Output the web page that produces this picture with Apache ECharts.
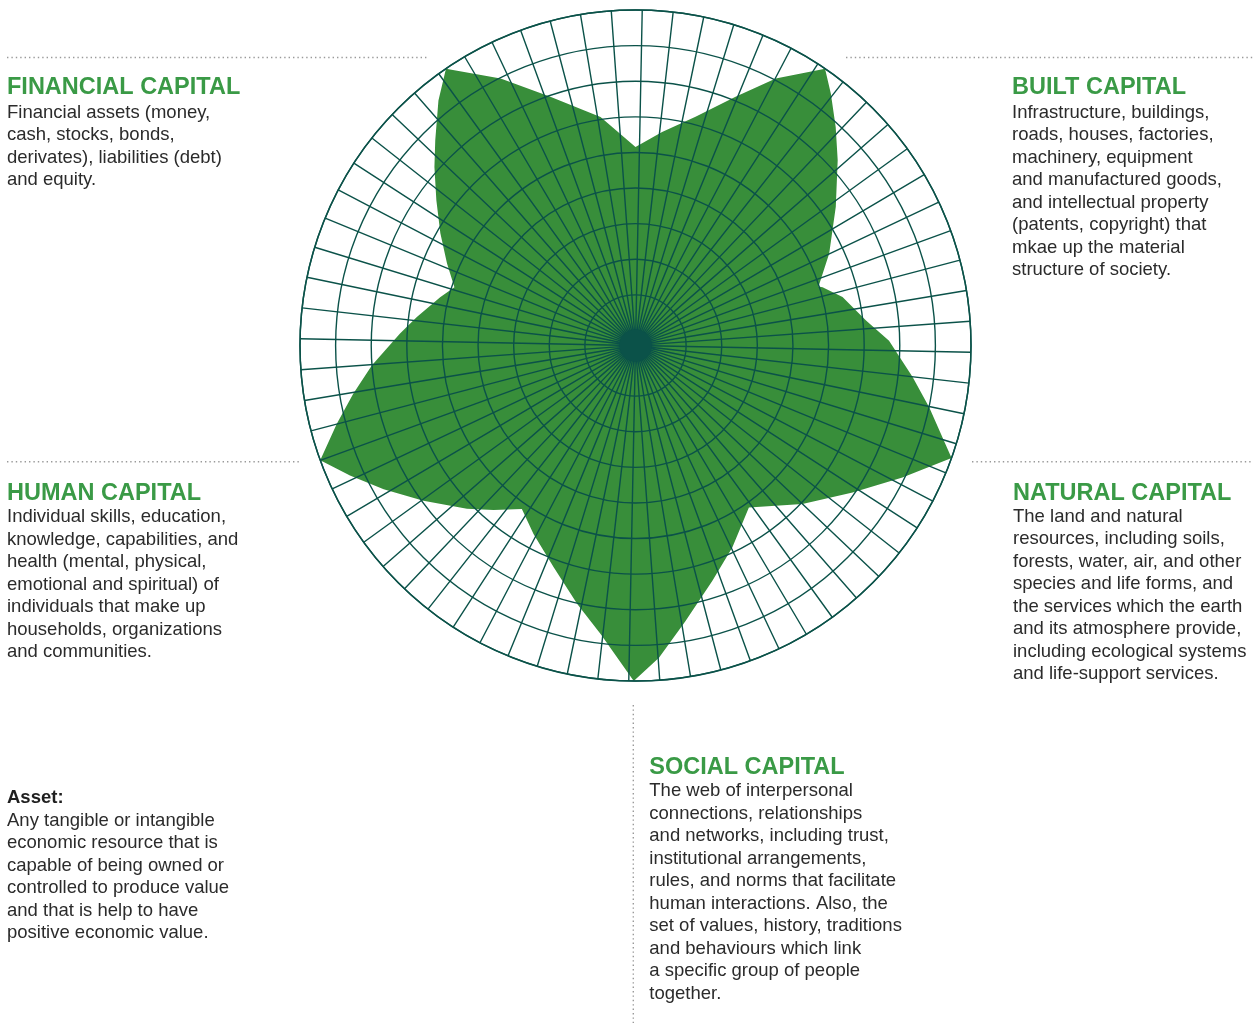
<!DOCTYPE html>
<html>
<head>
<meta charset="utf-8">
<title>Capitals</title>
<script src="https://cdn.jsdelivr.net/npm/echarts@6.0.0/dist/echarts.min.js"></script>
<style>
  html, body { margin: 0; padding: 0; background: #fff; }
  #main { width: 1255px; height: 1023px; }
</style>
</head>
<body>
<div id="main"></div>
<script>
// petal outline: angle in degrees (0 = right, counter-clockwise), radius in ring units (0..9)
var petalAngles = [1.1, 6.2, 13.2, 17.3, 17.9, 25.4, 34.7, 42.5, 47.5, 52.2,
                   55.6, 62.3, 68.1, 75.3, 82.9, 90, 98.7, 108.9, 116.8, 124.4,
                   128.8, 134.3, 138.4, 143.9, 150.1, 156.5, 162.2, 166.1, 172.6, 177.1,
                   184.3, 189.7, 194.7, 200.0, 204.5, 209.7, 216.2, 224.1, 229.2, 235.2,
                   241.6, 249.8, 257.3, 263.1, 269.7, 274.3, 280.3, 288.1, 295.6, 305.0,
                   316.5, 325.9, 333.7, 340.4, 348.1, 353.5];
var petalRadii = [6.70, 6.09, 5.55, 5.08, 4.98, 5.60, 6.42, 7.28, 7.90, 8.53,
                  9.0, 8.05, 7.11, 6.22, 5.62, 5.15, 6.07, 6.96, 7.98, 9.0,
                  8.41, 7.63, 7.13, 6.50, 5.90, 5.35, 4.92, 5.23, 5.77, 6.20,
                  7.00, 7.62, 8.25, 9.0, 8.39, 7.72, 6.96, 6.17, 5.68, 5.17,
                  5.60, 6.22, 7.02, 7.74, 9.0, 8.37, 7.44, 6.53, 5.87, 5.13,
                  6.04, 6.94, 7.94, 9.0, 8.01, 7.41];

var ringCount = 9;      // concentric rings
var spokeCount = 68;    // radial lines
var spokeOffset = -1.15;

var financialLines = ['Financial assets (money,', 'cash, stocks, bonds,', 'derivates), liabilities (debt)', 'and equity.'];
var builtLines = ['Infrastructure, buildings,', 'roads, houses, factories,', 'machinery, equipment', 'and manufactured goods,',
                  'and intellectual property', '(patents, copyright) that', 'mkae up the material', 'structure of society.'];
var humanLines = ['Individual skills, education,', 'knowledge, capabilities, and', 'health (mental, physical,',
                  'emotional and spiritual) of', 'individuals that make up', 'households, organizations', 'and communities.'];
var naturalLines = ['The land and natural', 'resources, including soils,', 'forests, water, air, and other',
                    'species and life forms, and', 'the services which the earth', 'and its atmosphere provide,',
                    'including ecological systems', 'and life-support services.'];
var socialLines = ['The web of interpersonal', 'connections, relationships', 'and networks, including trust,',
                   'institutional arrangements,', 'rules, and norms that facilitate', 'human interactions. Also, the',
                   'set of values, history, traditions', 'and behaviours which link', 'a specific group of people', 'together.'];
var assetLines = ['Any tangible or intangible', 'economic resource that is', 'capable of being owned or',
                  'controlled to produce value', 'and that is help to have', 'positive economic value.'];

var GRID = '#0b5249';
var FILL = '#388e3a';
var HEAD = '#3a9a46';
var BODY = '#2b2b2b';
var FONT = '"Liberation Sans", Arial, Helvetica, sans-serif';
var LH = 22.5;

var shape = [];
for (var i = 0; i < petalAngles.length; i++) {
    shape.push([petalRadii[i], petalAngles[i]]);
}
shape.push([petalRadii[0], petalAngles[0] + 360]);

function heading(txt, x, cy) {
    return { type: 'text', x: x, y: cy, z: 20,
        style: { text: txt, fill: HEAD, font: 'bold 23.5px ' + FONT, verticalAlign: 'middle' } };
}
function body(lines, x, firstCy) {
    return { type: 'text', x: x, y: firstCy - LH / 2, z: 20,
        style: { text: lines.join('\n'), fill: BODY, font: '18.5px ' + FONT, lineHeight: LH, verticalAlign: 'top' } };
}
function dotted(x1, y1, x2, y2) {
    return { type: 'line', z: 20, silent: true,
        shape: { x1: x1, y1: y1, x2: x2, y2: y2 },
        style: { stroke: '#9a9a9a', lineWidth: 1.4, lineDash: [1.4, 3] } };
}

var chart = echarts.init(document.getElementById('main'), null, { renderer: 'canvas' });
var option = {
    backgroundColor: '#ffffff',
    animation: false,
    polar: { center: [635.5, 345.5], radius: [15, 335.5] },
    angleAxis: {
        type: 'value',
        min: spokeOffset,
        max: spokeOffset + 360,
        interval: 360 / spokeCount,
        startAngle: spokeOffset,
        clockwise: false,
        z: 10,
        axisLine: { show: true, lineStyle: { color: GRID, width: 1.5 } },
        axisTick: { show: false },
        axisLabel: { show: false },
        splitLine: { show: true, lineStyle: { color: GRID, width: 1.4 } }
    },
    radiusAxis: {
        type: 'value',
        min: 0,
        max: ringCount,
        interval: 1,
        z: 10,
        axisLine: { show: false },
        axisTick: { show: false },
        axisLabel: { show: false },
        splitLine: { show: true, lineStyle: { color: GRID, width: 1.4 } }
    },
    series: [{
        type: 'line',
        coordinateSystem: 'polar',
        data: shape,
        showSymbol: false,
        symbol: 'none',
        smooth: false,
        silent: true,
        z: 2,
        lineStyle: { width: 0, color: FILL },
        areaStyle: { color: FILL, opacity: 1 }
    }],
    graphic: [
        { type: 'circle', shape: { cx: 635.5, cy: 345.5, r: 16 }, style: { fill: GRID }, z: 15, silent: true },
        dotted(7, 57.5, 427, 57.5),
        dotted(846, 57.5, 1253, 57.5),
        dotted(7, 461.7, 300, 461.7),
        dotted(972, 461.7, 1253, 461.7),
        dotted(633.3, 705, 633.3, 1023),
        heading('FINANCIAL CAPITAL', 7, 88),
        body(financialLines, 7, 112.7),
        heading('BUILT CAPITAL', 1012, 88),
        body(builtLines, 1012, 112.7),
        heading('HUMAN CAPITAL', 7, 493.5),
        body(humanLines, 7, 517),
        heading('NATURAL CAPITAL', 1013, 493.2),
        body(naturalLines, 1013, 516.7),
        heading('SOCIAL CAPITAL', 649.3, 767.3),
        body(socialLines, 649.3, 791),
        { type: 'text', x: 7, y: 798, z: 20,
          style: { text: 'Asset:', fill: '#1f1f1f', font: 'bold 18.5px ' + FONT, verticalAlign: 'middle' } },
        body(assetLines, 7, 820.5)
    ]
};
chart.setOption(option);
</script>
</body>
</html>
